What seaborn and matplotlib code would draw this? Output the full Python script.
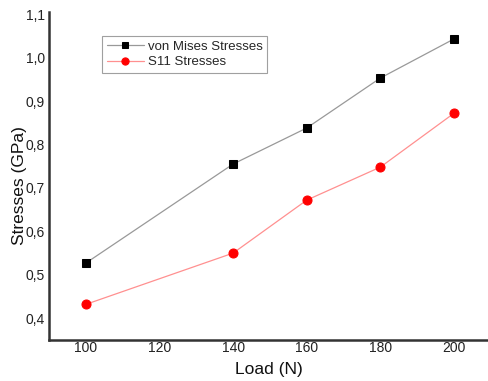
import matplotlib
matplotlib.use("Agg")
import matplotlib.pyplot as plt
import seaborn as sns
import pandas as pd
from matplotlib.ticker import FuncFormatter

load = [100, 140, 160, 180, 200]
von_mises = [0.527, 0.755, 0.838, 0.953, 1.043]
s11 = [0.432, 0.550, 0.672, 0.748, 0.872]
series_names = ["von Mises Stresses", "S11 Stresses"]

sns.set_style("white")
plt.rcParams['font.family'] = ['Liberation Sans', 'DejaVu Sans']

df = pd.DataFrame({
    "Load": load * 2,
    "Stress": von_mises + s11,
    "Series": [series_names[0]] * len(load) + [series_names[1]] * len(load),
})

fig = plt.figure(figsize=(4.89, 3.81), dpi=100)
ax = fig.add_axes([49/489, 1 - 340/381, 1 - 49/489, (340 - 12)/381])

sns.lineplot(data=df[df.Series == series_names[0]], x="Load", y="Stress", ax=ax,
             color="#999999", lw=0.9, marker="s", markersize=5.5,
             markerfacecolor="black", markeredgecolor="black", label=series_names[0])
sns.lineplot(data=df[df.Series == series_names[1]], x="Load", y="Stress", ax=ax,
             color="#ff9090", lw=0.9, marker="o", markersize=6.5,
             markerfacecolor="red", markeredgecolor="red", label=series_names[1])

ax.set_xlim(90, 209.5)
ax.set_ylim(0.35, 1.105)
ax.set_xticks([100, 120, 140, 160, 180, 200])
ax.set_yticks([0.4, 0.5, 0.6, 0.7, 0.8, 0.9, 1.0, 1.1])
ax.yaxis.set_major_formatter(FuncFormatter(lambda v, p: f"{v:.1f}".replace(".", ",")))
ax.tick_params(axis='both', length=0, labelsize=10, colors="#222222")
ax.tick_params(axis='x', pad=1)
ax.tick_params(axis='y', pad=3)
ax.set_xlabel("Load (N)", fontsize=12.5, color="#111111", labelpad=5)
ax.set_ylabel("Stresses (GPa)", fontsize=12.5, color="#111111")
ax.yaxis.set_label_coords(-0.05, 0.47)

for s in ["top", "right"]:
    ax.spines[s].set_visible(False)
for s in ["left", "bottom"]:
    ax.spines[s].set_color("#333333")
    ax.spines[s].set_linewidth(1.8)

leg = ax.legend(loc="upper left", bbox_to_anchor=((102 - 49)/440, 1 - (36 - 12)/328),
                borderaxespad=0, markerscale=0.8,
                fontsize=9.5, frameon=True, fancybox=False, edgecolor="#888888",
                borderpad=0.35, labelspacing=0.25, handlelength=2.8, handletextpad=0.3)
leg.get_frame().set_linewidth(0.8)

fig.savefig("out.png", dpi=100)
